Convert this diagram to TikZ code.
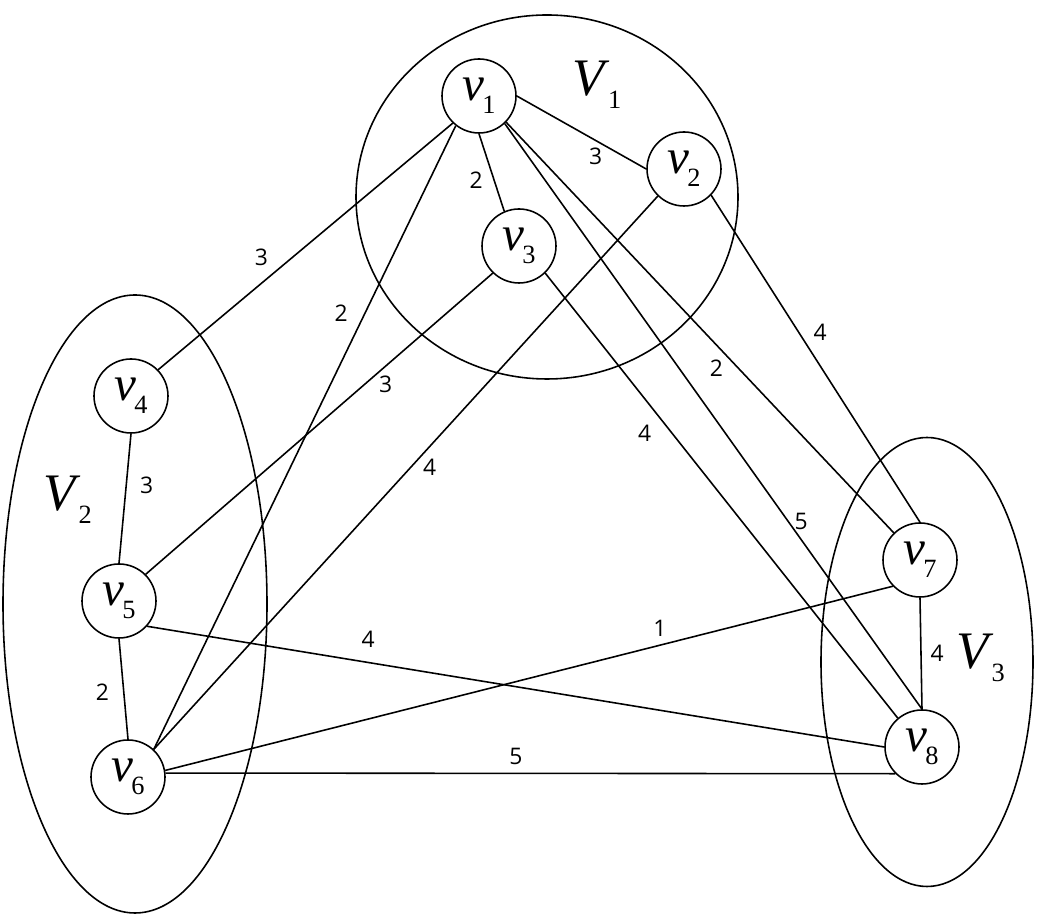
\documentclass[tikz,border=0pt]{standalone}
\usepackage{fontspec}
\setmainfont{Liberation Serif}
\newfontfamily\wtfont{Open Sans}
\usetikzlibrary{positioning}
\newcommand{\vsub}[2]{\textit{#1}\kern-1pt\raisebox{-7.5pt}{\fontsize{15}{15}\selectfont #2}}

\begin{document}
\begin{tikzpicture}[
    line width=0.9pt,
    vertex/.style={
        circle,
        draw,
        minimum size=1.48cm,
        inner sep=0pt,
        fill=white,
        font=\fontsize{28}{30}\selectfont
    },
    part/.style={font=\fontsize{30}{32}\selectfont},
    wt/.style={font=\wtfont\fontsize{13}{13}\selectfont, inner sep=1pt}
]
    \useasboundingbox (0,0) rectangle (20.92,18.42);

    % Parts
    \draw (10.94,14.48) ellipse (3.82 and 3.64);
    \draw (2.70,6.34) ellipse (2.64 and 6.18);
    \draw (18.54,5.18) ellipse (2.12 and 4.49);
    \node[part] (V1) at (11.94,16.72) {\vsub{V}{1}};
    \node[part] (V2) at (1.35,8.43) {\vsub{V}{2}};
    \node[part] (V3) at (19.61,5.27) {\vsub{V}{3}};

    % Vertices
    \foreach \n/\x/\y in {1/9.58/16.50, 2/13.68/15.04, 3/10.38/13.50, 4/2.62/10.50,
                          5/2.38/6.40, 6/2.56/2.88, 7/18.40/7.22, 8/18.44/3.48} {
        \node[vertex] (v\n) at (\x,\y) {\vsub{v}{\n}};
    }

    % Edges
    \draw (v1.east) -- node[wt, pos=0.61, below=2.5pt] {3} (v2.west);
    \draw (v1.south) -- node[wt, pos=0.6, left=5pt] {2} (v3.113);
    \draw (v1.226) -- node[wt, pos=0.65, above=8.5pt] {3} (v4.44);
    \draw (v1.232) -- node[wt, pos=0.3, left=8.5pt] {2} (v6.47);
    \draw (v1.-44) -- node[wt, pos=0.6, left=7.5pt] {2} (v7.134);
    \draw (v1.-47) -- node[wt, pos=0.68, right=2pt] {5} (v8.north);
    \draw (v2.226) -- node[wt, pos=0.49, right=5.5pt] {4} (v6.47);
    \draw (v2.-44) -- node[wt, pos=0.42, right=7pt] {4} (v7.north);
    \draw (v3.226) -- node[wt, pos=0.37, right=7pt] {3} (v5.45);
    \draw (v3.-46) -- node[wt, pos=0.36, left=10.5pt] {4} (v8.130);
    \draw (v4.south) -- node[wt, pos=0.4, right=6.5pt] {3} (v5.north);
    \draw (v5.south) -- node[wt, pos=0.53, left=7pt] {2} (v6.north);
    \draw (v5.-42) -- node[wt, pos=0.3, above=7pt] {4} (v8.west);
    \draw (v6.10) -- node[wt, pos=0.68, above=3.5pt] {1} (v7.224);
    \draw (v6.6) -- node[wt, pos=0.48, above=3.5pt] {5} (v8.-135);
    \draw (v7.south) -- node[wt, pos=0.5, right=4pt] {4} (v8.north);

\end{tikzpicture}
\end{document}
